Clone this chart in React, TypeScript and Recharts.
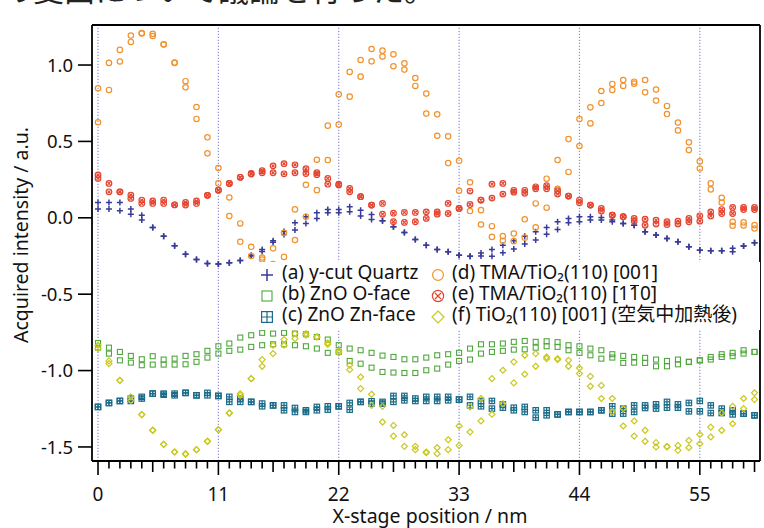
import React from "react";
import { ScatterChart, Scatter, XAxis, YAxis, ReferenceLine, Legend } from "recharts";

// --- Data (nm positions, two scans per sample) ---

const X_NM = [
  0, 1, 2, 3, 4, 5, 6, 7, 8, 9, 10, 11, 12, 13, 14, 15, 16, 17, 18, 19, 20,
  21, 22, 23, 24, 25, 26, 27, 28, 29, 30, 31, 32, 33, 34, 35, 36, 37, 38, 39, 40,
  41, 42, 43, 44, 45, 46, 47, 48, 49, 50, 51, 52, 53, 54, 55, 56, 57, 58, 59, 60,
];

const QUARTZ_1 = [0.1, 0.1, 0.1, 0.057, 0.017, -0.063, -0.12, -0.183, -0.238, -0.273, -0.3, -0.303, -0.295, -0.28, -0.25, -0.208, -0.16, -0.09, -0.033, 0.007, 0.033, 0.055, 0.055, 0.072, 0.05, 0.022, -0.02, -0.059, -0.096, -0.142, -0.179, -0.207, -0.223, -0.245, -0.251, -0.23, -0.208, -0.179, -0.151, -0.12, -0.091, -0.063, -0.026, -0.004, 0.007, 0.007, 0.002, -0.015, -0.037, -0.048, -0.091, -0.113, -0.135, -0.157, -0.19, -0.212, -0.216, -0.216, -0.2, -0.185, -0.164];
const QUARTZ_2 = [0.057, 0.057, 0.046, 0.024, -0.015, -0.063, -0.12, -0.183, -0.238, -0.273, -0.3, -0.303, -0.295, -0.28, -0.245, -0.22, -0.15, -0.11, -0.08, -0.037, -0.004, 0.033, 0.033, 0.039, 0.011, -0.011, -0.02, -0.059, -0.096, -0.142, -0.179, -0.207, -0.223, -0.245, -0.251, -0.25, -0.251, -0.229, -0.205, -0.172, -0.146, -0.107, -0.076, -0.033, -0.026, -0.015, -0.015, -0.026, -0.037, -0.048, -0.091, -0.113, -0.135, -0.157, -0.19, -0.212, -0.216, -0.216, -0.223, -0.185, -0.164];

const ZNO_O_1 = [-0.82, -0.85, -0.878, -0.904, -0.926, -0.906, -0.928, -0.922, -0.904, -0.893, -0.871, -0.841, -0.823, -0.784, -0.769, -0.753, -0.758, -0.753, -0.758, -0.762, -0.78, -0.797, -0.834, -0.856, -0.867, -0.884, -0.902, -0.911, -0.926, -0.926, -0.915, -0.9, -0.893, -0.884, -0.856, -0.828, -0.828, -0.823, -0.812, -0.806, -0.812, -0.808, -0.814, -0.834, -0.841, -0.856, -0.867, -0.893, -0.904, -0.911, -0.917, -0.928, -0.937, -0.928, -0.943, -0.933, -0.911, -0.893, -0.884, -0.867, -0.878];
const ZNO_O_2 = [-0.85, -0.889, -0.933, -0.948, -0.965, -0.961, -0.961, -0.961, -0.959, -0.943, -0.915, -0.889, -0.871, -0.863, -0.845, -0.834, -0.828, -0.828, -0.834, -0.841, -0.856, -0.884, -0.878, -0.937, -0.955, -0.981, -1.009, -1.013, -1.016, -1.016, -0.998, -0.987, -0.961, -0.937, -0.928, -0.889, -0.878, -0.871, -0.863, -0.861, -0.85, -0.841, -0.845, -0.867, -0.884, -0.9, -0.922, -0.915, -0.95, -0.948, -0.95, -0.972, -0.972, -0.959, -0.943, -0.933, -0.928, -0.911, -0.906, -0.889, -0.878];

const ZNO_ZN_1 = [-1.238, -1.212, -1.199, -1.183, -1.172, -1.151, -1.151, -1.151, -1.146, -1.162, -1.146, -1.166, -1.172, -1.183, -1.205, -1.216, -1.228, -1.228, -1.245, -1.26, -1.238, -1.234, -1.234, -1.212, -1.205, -1.201, -1.205, -1.166, -1.166, -1.183, -1.172, -1.172, -1.172, -1.19, -1.172, -1.199, -1.199, -1.221, -1.243, -1.238, -1.26, -1.26, -1.287, -1.271, -1.271, -1.271, -1.26, -1.234, -1.249, -1.228, -1.228, -1.221, -1.205, -1.221, -1.212, -1.199, -1.228, -1.249, -1.26, -1.282, -1.293];
const ZNO_ZN_2 = [-1.238, -1.212, -1.199, -1.199, -1.183, -1.151, -1.158, -1.162, -1.146, -1.162, -1.162, -1.166, -1.205, -1.205, -1.205, -1.234, -1.228, -1.26, -1.271, -1.271, -1.26, -1.256, -1.234, -1.256, -1.205, -1.216, -1.216, -1.205, -1.195, -1.199, -1.199, -1.199, -1.195, -1.19, -1.228, -1.234, -1.249, -1.243, -1.26, -1.271, -1.308, -1.293, -1.287, -1.271, -1.271, -1.271, -1.26, -1.282, -1.282, -1.271, -1.245, -1.249, -1.243, -1.243, -1.267, -1.267, -1.278, -1.278, -1.287, -1.282, -1.293];

const TMA001_1 = [0.848, 1.014, 1.099, 1.193, 1.21, 1.204, 1.136, 1.016, 0.894, 0.725, 0.527, 0.326, 0.133, -0.037, -0.19, -0.26, -0.2, -0.098, 0.055, 0.216, 0.38, 0.603, 0.808, 0.955, 1.033, 1.105, 1.094, 1.07, 1.011, 0.915, 0.813, 0.677, 0.533, 0.373, 0.232, 0.05, -0.055, -0.12, -0.103, -0.01, 0.094, 0.256, 0.378, 0.515, 0.646, 0.723, 0.83, 0.876, 0.902, 0.891, 0.902, 0.839, 0.732, 0.623, 0.494, 0.369, 0.225, 0.131, -0.026, -0.03, -0.048];
const TMA001_2 = [0.625, 0.837, 1.023, 1.151, 1.206, 1.19, 1.134, 1.014, 0.854, 0.647, 0.422, 0.225, 0.011, -0.157, -0.25, -0.273, -0.303, -0.256, -0.146, 0.007, 0.181, 0.378, 0.61, 0.793, 0.924, 1.024, 1.055, 0.992, 0.97, 0.863, 0.682, 0.537, 0.358, 0.177, 0.044, -0.044, -0.125, -0.15, -0.153, -0.13, -0.063, 0.066, 0.19, 0.3, 0.47, 0.618, 0.751, 0.837, 0.863, 0.878, 0.821, 0.767, 0.679, 0.572, 0.443, 0.323, 0.186, 0.1, -0.052, -0.05, -0.07];

const TMA110_1 = [0.28, 0.225, 0.17, 0.149, 0.116, 0.111, 0.116, 0.085, 0.1, 0.111, 0.147, 0.181, 0.225, 0.265, 0.29, 0.308, 0.34, 0.354, 0.347, 0.321, 0.295, 0.258, 0.22, 0.192, 0.138, 0.083, 0.094, 0.03, 0.035, 0.035, 0.039, 0.039, 0.094, 0.061, 0.175, 0.116, 0.22, 0.225, 0.18, 0.18, 0.203, 0.21, 0.177, 0.142, 0.116, 0.083, 0.061, 0.017, 0.007, -0.004, -0.009, -0.015, -0.026, -0.022, -0.004, 0.013, 0.039, 0.054, 0.068, 0.068, 0.068];
const TMA110_2 = [0.258, 0.17, 0.17, 0.127, 0.094, 0.094, 0.094, 0.085, 0.083, 0.094, 0.147, 0.181, 0.225, 0.265, 0.286, 0.295, 0.295, 0.288, 0.295, 0.29, 0.282, 0.22, 0.214, 0.17, 0.138, 0.083, 0.024, -0.026, -0.03, -0.026, -0.004, 0.024, 0.028, 0.061, 0.087, 0.116, 0.129, 0.155, 0.168, 0.16, 0.19, 0.19, 0.155, 0.142, 0.098, 0.083, 0.044, 0.017, 0.007, -0.022, -0.048, -0.041, -0.044, -0.041, -0.026, -0.022, 0.011, 0.028, 0.028, 0.054, 0.054];

const HEATED_1 = [-0.834, -0.937, -1.064, -1.172, -1.288, -1.391, -1.483, -1.533, -1.544, -1.518, -1.463, -1.387, -1.278, -1.151, -1.053, -0.928, -0.834, -0.797, -0.758, -0.758, -0.78, -0.819, -0.871, -0.965, -1.042, -1.155, -1.234, -1.359, -1.42, -1.496, -1.533, -1.505, -1.453, -1.363, -1.238, -1.183, -1.053, -0.998, -0.943, -0.9, -0.889, -0.911, -0.922, -0.933, -0.983, -1.038, -1.097, -1.183, -1.249, -1.33, -1.391, -1.472, -1.496, -1.49, -1.457, -1.418, -1.37, -1.278, -1.234, -1.183, -1.146];
const HEATED_2 = [-0.856, -0.955, -1.064, -1.195, -1.288, -1.391, -1.483, -1.533, -1.548, -1.518, -1.463, -1.387, -1.278, -1.162, -1.053, -0.972, -0.889, -0.834, -0.791, -0.769, -0.78, -0.828, -0.884, -0.994, -1.118, -1.228, -1.337, -1.429, -1.496, -1.518, -1.538, -1.544, -1.518, -1.49, -1.402, -1.33, -1.286, -1.216, -1.081, -1.024, -0.972, -0.922, -0.928, -0.972, -1.02, -1.103, -1.183, -1.271, -1.363, -1.429, -1.463, -1.5, -1.5, -1.522, -1.505, -1.479, -1.435, -1.391, -1.348, -1.249, -1.19];

const X_MAJOR = [0, 11, 22, 33, 44, 55];
const X_MID = [5, 16, 27, 38, 49, 60];
const Y_TICKS = [-1.5, -1, -0.5, 0, 0.5, 1];

// --- Styling ---

const FONT = '"Noto Sans", "Noto Sans CJK JP", sans-serif';
const INK = "#111";
const BLUE = "#3a3a98";
const GREEN = "#4fa83c";
const TEAL = "#1b6c8a";
const ORANGE = "#f2922c";
const RED = "#e4432e";
const YELLOW = "#c9c91c";
const GUIDE = "#8e8ed8";

type Kind = "plus" | "square" | "squarePlus" | "circle" | "circleX" | "diamond";

function marker(kind: Kind, cx: number, cy: number, s: number) {
  switch (kind) {
    case "plus":
      return <path d={`M${cx - 3 * s},${cy}h${6 * s}M${cx},${cy - 3 * s}v${6 * s}`} stroke={BLUE} strokeWidth={1.5} fill="none" />;
    case "square":
      return <rect x={cx - 2.5 * s} y={cy - 2.5 * s} width={5 * s} height={5 * s} stroke={GREEN} strokeWidth={1.1} fill="none" />;
    case "squarePlus":
      return (
        <g stroke={TEAL} strokeWidth={1.2} fill="none">
          <rect x={cx - 2.7 * s} y={cy - 2.7 * s} width={5.4 * s} height={5.4 * s} />
          <path d={`M${cx - 2.7 * s},${cy}h${5.4 * s}M${cx},${cy - 2.7 * s}v${5.4 * s}`} />
        </g>
      );
    case "circle":
      return <circle cx={cx} cy={cy} r={2.7 * s} stroke={ORANGE} strokeWidth={1.2} fill="none" />;
    case "circleX": {
      const d = 1.5 * s;
      return (
        <g stroke={RED} strokeWidth={1.2} fill="none">
          <circle cx={cx} cy={cy} r={2.8 * s} />
          <path d={`M${cx - d},${cy - d}L${cx + d},${cy + d}M${cx - d},${cy + d}L${cx + d},${cy - d}`} />
        </g>
      );
    }
    default:
      return <path d={`M${cx},${cy - 3 * s}L${cx + 3 * s},${cy}L${cx},${cy + 3 * s}L${cx - 3 * s},${cy}Z`} stroke={YELLOW} strokeWidth={1.2} fill="none" />;
  }
}

const toPoints = (a: number[], b: number[]) => [
  ...X_NM.map((x, i) => ({ x, y: a[i] })),
  ...X_NM.map((x, i) => ({ x, y: b[i] })),
];

const Bar1 = () => (
  <span style={{ position: "relative" }}>
    1
    <span style={{ position: "absolute", left: 1, right: 1, top: 4.5, borderTop: `1.4px solid ${INK}` }} />
  </span>
);

const SERIES: { key: string; kind: Kind; label: React.ReactNode; data: { x: number; y: number }[] }[] = [
  { key: "a", kind: "plus", label: "(a) y-cut Quartz", data: toPoints(QUARTZ_1, QUARTZ_2) },
  { key: "b", kind: "square", label: "(b) ZnO O-face", data: toPoints(ZNO_O_1, ZNO_O_2) },
  { key: "c", kind: "squarePlus", label: "(c) ZnO Zn-face", data: toPoints(ZNO_ZN_1, ZNO_ZN_2) },
  { key: "d", kind: "circle", label: "(d) TMA/TiO₂(110) [001]", data: toPoints(TMA001_1, TMA001_2) },
  {
    key: "e",
    kind: "circleX",
    label: (
      <>
        (e) TMA/TiO₂(110) [1<Bar1 />0]
      </>
    ),
    data: toPoints(TMA110_1, TMA110_2),
  },
  { key: "f", kind: "diamond", label: "(f) TiO₂(110) [001] (空気中加熱後)", data: toPoints(HEATED_1, HEATED_2) },
];

// --- Axis pieces ---

function tickLen(v: number, major: number, mid: number, minor: number) {
  if (X_MAJOR.includes(v)) return major;
  if (X_MID.includes(v)) return mid;
  return minor;
}

function BottomTick(props: any) {
  const { x, y, payload } = props;
  const v = payload.value as number;
  const len = tickLen(v, 14, 11, 7.5);
  return (
    <g>
      <line x1={x} x2={x} y1={y} y2={y + len} stroke="#000" strokeWidth={1.6} />
      {X_MAJOR.includes(v) && (
        <text x={x} y={y + 40} textAnchor="middle" fontSize={19} fontFamily={FONT} fill={INK}>
          {v}
        </text>
      )}
    </g>
  );
}

function TopTick(props: any) {
  const { x, y, payload } = props;
  const len = tickLen(payload.value as number, 13, 10, 7);
  return <line x1={x} x2={x} y1={y} y2={y - len} stroke="#000" strokeWidth={1.6} />;
}

function LegendBox() {
  const symX = [12, 183];
  const txtX = [27, 197];
  return (
    <div
      style={{
        position: "relative",
        width: 505,
        height: 68,
        background: "#fff",
        fontFamily: FONT,
        fontSize: 19,
        lineHeight: "19px",
        color: INK,
      }}
    >
      {SERIES.map((s, i) => {
        const col = i < 3 ? 0 : 1;
        const row = i % 3;
        return (
          <React.Fragment key={s.key}>
            <svg width={16} height={16} style={{ position: "absolute", left: symX[col] - 8, top: 13 + row * 21 - 8 }}>
              {marker(s.kind, 8, 8, 2)}
            </svg>
            <div style={{ position: "absolute", left: txtX[col], top: 1 + row * 21, whiteSpace: "nowrap" }}>{s.label}</div>
          </React.Fragment>
        );
      })}
    </div>
  );
}

export default function App() {
  return (
    <div style={{ position: "absolute", left: 0, top: 0, width: 764, height: 528, background: "#fff", overflow: "hidden" }}>
      <ScatterChart width={764} height={528} margin={{ top: 0, right: 0, bottom: 0, left: 0 }}>
        <XAxis
          dataKey="x"
          type="number"
          domain={[-0.55, 60.5]}
          allowDataOverflow
          ticks={X_NM}
          interval={0}
          tickSize={0}
          tickMargin={0}
          tickLine={false}
          tick={<BottomTick />}
          height={67}
          axisLine={{ stroke: "#000", strokeWidth: 1.8 }}
          label={() => (
            <text x={430} y={523} textAnchor="middle" fontSize={19.5} fontFamily={FONT} fill={INK}>
              X-stage position / nm
            </text>
          )}
        />
        <XAxis
          xAxisId="top"
          orientation="top"
          type="number"
          domain={[-0.55, 60.5]}
          allowDataOverflow
          ticks={X_NM}
          interval={0}
          tickSize={0}
          tickMargin={0}
          tickLine={false}
          tick={<TopTick />}
          height={25}
          axisLine={{ stroke: "#000", strokeWidth: 1.8 }}
        />
        <YAxis
          dataKey="y"
          type="number"
          domain={[-1.592, 1.262]}
          allowDataOverflow
          ticks={Y_TICKS}
          tickFormatter={(v: number) => v.toFixed(1)}
          width={92}
          tickSize={14}
          tickMargin={5}
          tick={{ fontSize: 18.5, fill: INK, fontFamily: FONT }}
          tickLine={{ stroke: "#000", strokeWidth: 1.6 }}
          axisLine={{ stroke: "#000", strokeWidth: 1.8 }}
          label={() => (
            <text
              x={28}
              y={235}
              transform="rotate(-90, 28, 235)"
              textAnchor="middle"
              fontSize={19.5}
              fontFamily={FONT}
              fill={INK}
            >
              Acquired intensity / a.u.
            </text>
          )}
        />
        <YAxis
          yAxisId="right"
          orientation="right"
          type="number"
          domain={[-1.592, 1.262]}
          allowDataOverflow
          ticks={Y_TICKS}
          width={4}
          tick={false}
          tickSize={5}
          tickLine={{ stroke: "#000", strokeWidth: 1.6 }}
          axisLine={{ stroke: "#000", strokeWidth: 1.8 }}
        />
        {X_MAJOR.map((v) => (
          <ReferenceLine key={v} x={v} stroke={GUIDE} strokeDasharray="1.2 1.8" strokeWidth={1.2} />
        ))}
        {SERIES.map((s) => (
          <Scatter
            key={s.key}
            data={s.data}
            isAnimationActive={false}
            shape={(p: any) => marker(s.kind, p.cx, p.cy, 1)}
          />
        ))}
        <Legend
          layout="horizontal"
          verticalAlign="middle"
          align="center"
          wrapperStyle={{ left: 255, top: 262, width: 505, height: 68 }}
          content={() => <LegendBox />}
        />
      </ScatterChart>
      <svg width={764} height={9} style={{ position: "absolute", left: 0, top: 0 }}>
        <text x={2} y={1} fontSize={31} fontFamily='"Noto Sans CJK JP"' fill="#222">
          の変曲について議論を行った。
        </text>
      </svg>
    </div>
  );
}
